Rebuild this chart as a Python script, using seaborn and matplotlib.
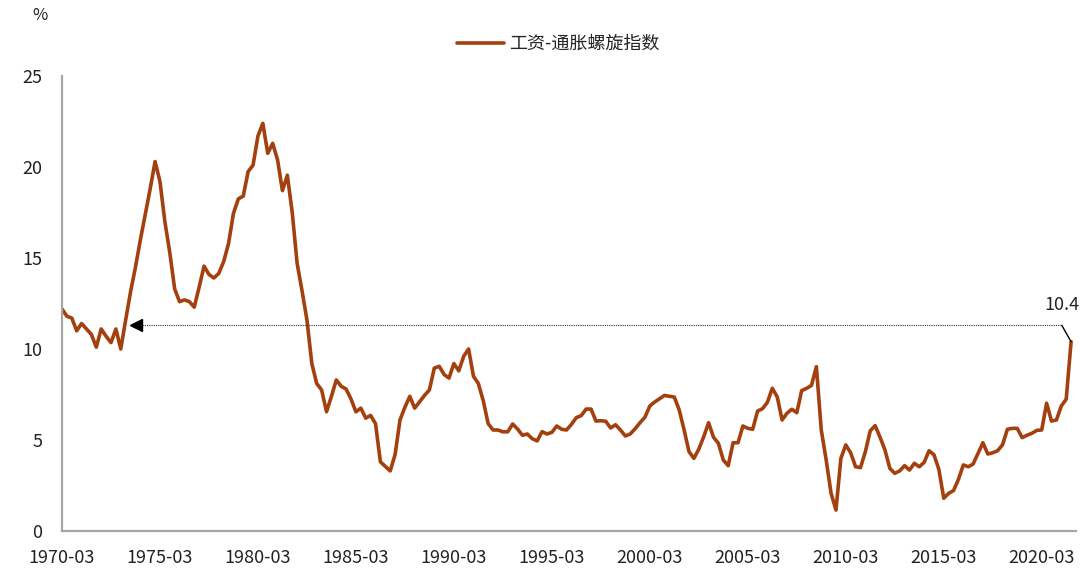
import numpy as np
import pandas as pd
import matplotlib
matplotlib.use("Agg")
import matplotlib.pyplot as plt
import seaborn as sns

# ---- data (quarterly, 1970-03 .. 2021-09) ----
spiral_index = [
    12.2, 11.8, 11.7, 11.0, 11.4, 11.1, 10.8, 10.1, 11.1, 10.7, 10.35, 11.1, 10.0,
    11.6, 13.15, 14.5, 16.0, 17.4, 18.8, 20.3, 19.2, 17.0, 15.3, 13.3, 12.6, 12.7,
    12.6, 12.3, 13.4, 14.55, 14.1, 13.9, 14.15, 14.8, 15.8, 17.45, 18.25, 18.4, 19.75,
    20.1, 21.7, 22.4, 20.75, 21.3, 20.4, 18.7, 19.55, 17.5, 14.7, 13.2, 11.6, 9.2,
    8.1, 7.75, 6.55, 7.4, 8.3, 7.95, 7.8, 7.25, 6.55, 6.75, 6.2, 6.35, 5.9, 3.8,
    3.55, 3.3, 4.2, 6.1, 6.8, 7.4, 6.75, 7.1, 7.45, 7.75, 8.95, 9.05, 8.6, 8.4,
    9.2, 8.8, 9.6, 10.0, 8.5, 8.1, 7.15, 5.9, 5.55, 5.55, 5.45, 5.45, 5.88, 5.6,
    5.26, 5.33, 5.07, 4.95, 5.46, 5.33, 5.42, 5.77, 5.59, 5.55, 5.86, 6.23, 6.34,
    6.7, 6.7, 6.04, 6.06, 6.03, 5.66, 5.84, 5.55, 5.22, 5.33, 5.62, 5.95, 6.25,
    6.87, 7.09, 7.27, 7.45, 7.4, 7.36, 6.65, 5.55, 4.36, 3.99, 4.5, 5.18, 5.95,
    5.15, 4.82, 3.9, 3.59, 4.85, 4.85, 5.77, 5.64, 5.59, 6.59, 6.72, 7.07, 7.84,
    7.38, 6.1, 6.47, 6.69, 6.5, 7.71, 7.84, 8.0, 9.03, 5.55, 3.9, 2.07, 1.15,
    3.99, 4.73, 4.3, 3.53, 3.48, 4.36, 5.51, 5.79, 5.15, 4.45, 3.44, 3.17, 3.3,
    3.59, 3.35, 3.72, 3.53, 3.77, 4.41, 4.19, 3.39, 1.8, 2.07, 2.22, 2.84, 3.63,
    3.53, 3.68, 4.27, 4.85, 4.23, 4.3, 4.41, 4.74, 5.59, 5.64, 5.64, 5.13, 5.26,
    5.37, 5.53, 5.55, 7.02, 6.04, 6.1, 6.87, 7.24, 10.4,
]
start_quarter = "1970Q1"
series_name = "工资-通胀螺旋指数"
ref_level = 11.3          # dotted reference level
latest_label = "10.4"
y_ticks = [0, 5, 10, 15, 20, 25]

quarters = pd.period_range(start_quarter, periods=len(spiral_index), freq="Q")
labels = [f"{q.year}-{q.quarter * 3:02d}" for q in quarters]
df = pd.DataFrame({"idx": np.arange(len(spiral_index)), "value": spiral_index,
                   "label": labels, "series": series_name})

# ---- style ----
sns.set_style("white")
plt.rcParams["font.family"] = ["Noto Sans CJK SC", "DejaVu Sans"]
plt.rcParams["axes.unicode_minus"] = False

line_color = "#A3400E"
axis_color = "#A6A6A6"
text_color = "#222222"

fig = plt.figure(figsize=(10.8, 5.73), dpi=100)
ax = fig.add_axes([62 / 1080, 42 / 573, 1014 / 1080, 455 / 573])

sns.lineplot(data=df, x="idx", y="value", hue="series", palette=[line_color],
             linewidth=2.6, ax=ax, legend=True)

n = len(spiral_index)
ax.set_xlim(0, n)
ax.set_ylim(0, 25)
ax.set_yticks(y_ticks)
xt = list(range(0, n, 20))
ax.set_xticks(xt)
ax.set_xticklabels([labels[i] for i in xt])
ax.set_xlabel("")
ax.set_ylabel("")

for s in ["top", "right"]:
    ax.spines[s].set_visible(False)
for s in ["left", "bottom"]:
    ax.spines[s].set_color(axis_color)
    ax.spines[s].set_linewidth(1.6)

ax.tick_params(axis="both", direction="in", length=5, width=1.2, color=axis_color,
               labelsize=13, labelcolor=text_color)
ax.tick_params(axis="y", pad=14)
ax.tick_params(axis="x", pad=13)

# reference dotted line with arrow head
last_i = n - 1
ax.plot([14.0, last_i - 1.9], [ref_level, ref_level], linestyle=(0, (1, 1)),
        color="#333333", linewidth=0.8)
ax.plot([15.2], [ref_level], marker="<", markersize=9, color="black", linestyle="none")
ax.plot([last_i - 1.9, last_i], [ref_level, spiral_index[-1]], color="black", linewidth=1.0)
ax.text(last_i - 1.9, ref_level + 1.1, latest_label, ha="center", va="center",
        fontsize=13, color=text_color)

# legend
h, l = ax.get_legend_handles_labels()
ax.legend_.remove()
fig.legend(h, l, loc="center", bbox_to_anchor=(558 / 1080, 1 - 44 / 573), frameon=False,
           fontsize=13, handlelength=2.6, handletextpad=0.3)

fig.text(40 / 1080, 1 - 15 / 573, "%", ha="center", va="center", fontsize=12,
         color=text_color)

fig.savefig("out.png", dpi=100)
